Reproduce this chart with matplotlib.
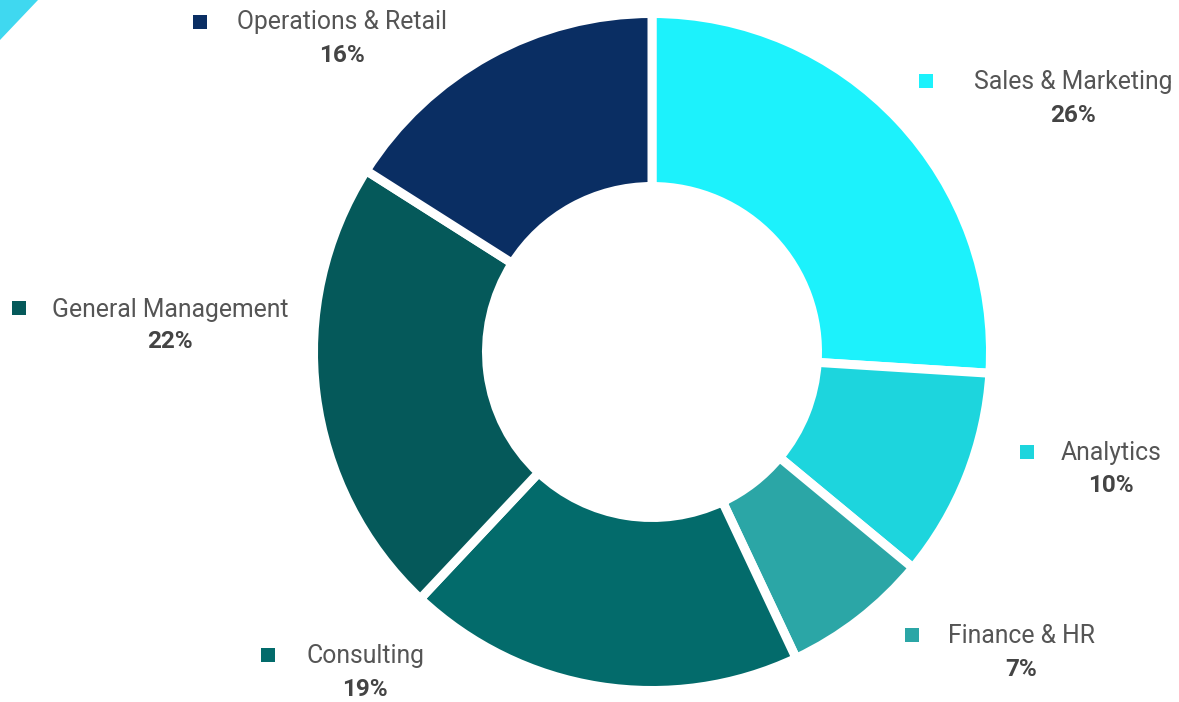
import matplotlib
matplotlib.use("Agg")
import matplotlib.pyplot as plt
from matplotlib.patches import Polygon, Rectangle

categories = ["Sales & Marketing", "Analytics", "Finance & HR", "Consulting",
              "General Management", "Operations & Retail"]
values = [26, 10, 7, 19, 22, 16]
colors = ["#1CF2FC", "#1DD5DD", "#2BA6A6", "#036B6B", "#05595A", "#0A2E63"]

W, H = 1179, 702
fig = plt.figure(figsize=(W / 100, H / 100), dpi=100)
ax = fig.add_axes([0, 0, 1, 1])

def Y(y):
    return H - y

lw_px = 9
R = 334 + lw_px / 2
w = R + lw_px / 2 - 170
ax.pie(values, colors=colors, startangle=90, counterclock=False,
       center=(652, Y(352)), radius=R, frame=True,
       wedgeprops=dict(width=w, edgecolor="white", linewidth=lw_px * 72 / 100))
ax.set_xlim(0, W)
ax.set_ylim(0, H)
ax.set_aspect("equal")
ax.axis("off")

# decorative corner triangle
ax.add_patch(Polygon([(0, Y(0)), (38, Y(0)), (0, Y(40))], closed=True,
                     facecolor="#3FD8F0", edgecolor="none"))

# label layout: (marker x, marker y, text center x, text y, pct y)
layout = [
    (926, 81, 1073, 82, 115),
    (1027, 452, 1111, 453, 486),
    (912, 635, 1021, 636, 669),
    (268, 655, 365, 656, 690),
    (19, 308, 170, 310, 342),
    (200, 22, 342, 22, 55),
]
ms = 14
for (mx, my, tx, ty, py), cat, val, col in zip(layout, categories, values, colors):
    ax.add_patch(Rectangle((mx - ms / 2, Y(my) - ms / 2), ms, ms,
                           facecolor=col, edgecolor="none"))
    ax.text(tx, Y(ty), cat, ha="center", va="center", fontsize=17.8,
            family="Roboto", color="#555555")
    ax.text(tx, Y(py), f"{val}%", ha="center", va="center", fontsize=17.5,
            family="Roboto", fontweight="bold", color="#444444")

fig.savefig("out.png", dpi=100, facecolor="white")
